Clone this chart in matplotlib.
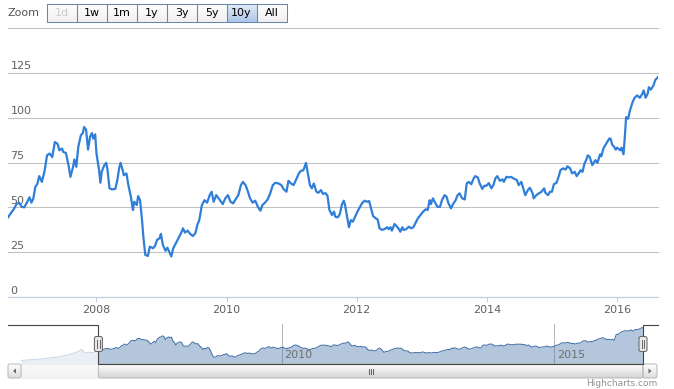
import matplotlib
matplotlib.use("Agg")
import matplotlib.pyplot as plt
import numpy as np
from matplotlib.patches import Rectangle, FancyBboxPatch, Polygon
from matplotlib.transforms import blended_transform_factory, offset_copy
from matplotlib.colors import LinearSegmentedColormap

# ---------------- data ----------------
dates = [
    2006.64, 2006.70, 2006.73, 2006.77, 2006.81, 2006.85, 2006.89, 2006.93, 2006.97, 2007.00,
    2007.03, 2007.06, 2007.09, 2007.12, 2007.16, 2007.20, 2007.24, 2007.28, 2007.32, 2007.36,
    2007.40, 2007.43, 2007.47, 2007.49, 2007.53, 2007.57, 2007.60, 2007.64, 2007.66, 2007.69,
    2007.72, 2007.76, 2007.79, 2007.81, 2007.84, 2007.87, 2007.90, 2007.93, 2007.95, 2007.98,
    2008.00, 2008.04, 2008.06, 2008.08, 2008.12, 2008.15, 2008.17, 2008.20, 2008.24, 2008.29,
    2008.32, 2008.35, 2008.37, 2008.40, 2008.42, 2008.46, 2008.49, 2008.53, 2008.56, 2008.58,
    2008.62, 2008.64, 2008.67, 2008.70, 2008.72, 2008.75, 2008.79, 2008.82, 2008.87, 2008.90,
    2008.93, 2008.97, 2008.99, 2009.02, 2009.06, 2009.09, 2009.12, 2009.15, 2009.18, 2009.22,
    2009.26, 2009.30, 2009.33, 2009.36, 2009.40, 2009.44, 2009.48, 2009.52, 2009.55, 2009.58,
    2009.62, 2009.66, 2009.70, 2009.74, 2009.77, 2009.80, 2009.84, 2009.89, 2009.94, 2009.98,
    2010.02, 2010.06, 2010.10, 2010.13, 2010.18, 2010.22, 2010.25, 2010.29, 2010.32, 2010.36,
    2010.40, 2010.44, 2010.48, 2010.52, 2010.55, 2010.59, 2010.63, 2010.67, 2010.71, 2010.75,
    2010.80, 2010.84, 2010.88, 2010.92, 2010.95, 2010.99, 2011.03, 2011.07, 2011.11, 2011.14,
    2011.18, 2011.22, 2011.24, 2011.28, 2011.31, 2011.34, 2011.38, 2011.41, 2011.45, 2011.48,
    2011.52, 2011.55, 2011.58, 2011.62, 2011.65, 2011.67, 2011.71, 2011.74, 2011.77, 2011.80,
    2011.82, 2011.85, 2011.88, 2011.91, 2011.94, 2011.98, 2012.01, 2012.05, 2012.08, 2012.12,
    2012.16, 2012.19, 2012.22, 2012.25, 2012.29, 2012.32, 2012.35, 2012.39, 2012.42, 2012.47,
    2012.49, 2012.52, 2012.54, 2012.58, 2012.61, 2012.64, 2012.67, 2012.70, 2012.72, 2012.76,
    2012.80, 2012.84, 2012.87, 2012.90, 2012.94, 2012.98, 2013.02, 2013.06, 2013.09, 2013.12,
    2013.14, 2013.17, 2013.21, 2013.24, 2013.28, 2013.31, 2013.35, 2013.38, 2013.41, 2013.45,
    2013.48, 2013.52, 2013.55, 2013.58, 2013.62, 2013.66, 2013.69, 2013.72, 2013.76, 2013.79,
    2013.82, 2013.86, 2013.89, 2013.93, 2013.96, 2013.99, 2014.03, 2014.07, 2014.10, 2014.13,
    2014.16, 2014.20, 2014.24, 2014.26, 2014.30, 2014.34, 2014.37, 2014.41, 2014.46, 2014.49,
    2014.53, 2014.56, 2014.59, 2014.63, 2014.66, 2014.70, 2014.72, 2014.76, 2014.80, 2014.84,
    2014.88, 2014.90, 2014.94, 2014.97, 2015.00, 2015.03, 2015.07, 2015.11, 2015.13, 2015.17,
    2015.21, 2015.24, 2015.28, 2015.31, 2015.35, 2015.38, 2015.41, 2015.44, 2015.47, 2015.50,
    2015.53, 2015.55, 2015.58, 2015.62, 2015.65, 2015.67, 2015.70, 2015.74, 2015.76, 2015.79,
    2015.82, 2015.85, 2015.88, 2015.90, 2015.93, 2015.95, 2015.98, 2016.00, 2016.05, 2016.07,
    2016.10, 2016.12, 2016.14, 2016.17, 2016.20, 2016.24, 2016.27, 2016.31, 2016.35, 2016.39,
    2016.41, 2016.44, 2016.47, 2016.49, 2016.52, 2016.56, 2016.59, 2016.63,
]
values = [
    44.4, 47.6, 49.0, 51.8, 52.6, 50.3, 50.0, 52.6, 55.6, 52.6,
    55.0, 61.4, 63.0, 67.4, 64.2, 69.8, 79.0, 80.0, 78.0, 86.4,
    85.5, 81.8, 82.8, 80.9, 80.3, 73.5, 67.0, 72.6, 76.7, 72.6,
    83.7, 90.2, 91.4, 94.8, 93.3, 82.2, 89.2, 91.4, 88.3, 90.7,
    80.0, 70.7, 63.7, 69.8, 73.5, 74.8, 70.7, 60.6, 60.0, 60.3,
    65.2, 72.2, 74.8, 71.1, 67.9, 68.9, 62.4, 55.6, 48.5, 53.1,
    51.3, 56.3, 54.0, 42.9, 33.7, 23.5, 22.9, 28.1, 27.2, 28.5,
    31.8, 32.8, 35.2, 29.0, 25.8, 27.5, 25.0, 22.6, 27.2, 30.0,
    32.8, 35.6, 38.3, 35.9, 37.0, 35.2, 34.0, 35.6, 40.2, 42.9,
    51.3, 54.0, 52.6, 56.8, 58.7, 53.1, 56.8, 54.4, 51.8, 55.0,
    56.8, 53.1, 52.2, 54.0, 56.8, 62.4, 64.2, 62.4, 59.6, 55.0,
    52.6, 53.7, 50.3, 48.1, 51.3, 52.6, 54.4, 57.8, 62.4, 63.7,
    63.3, 62.4, 60.0, 58.7, 64.8, 63.3, 62.4, 65.6, 68.9, 70.3,
    70.7, 74.8, 70.7, 62.4, 60.6, 63.3, 58.7, 58.1, 59.6, 57.5,
    57.9, 56.5, 48.5, 45.7, 47.6, 44.8, 44.4, 46.3, 51.3, 53.7,
    51.3, 45.2, 38.9, 42.9, 42.0, 45.2, 47.6, 50.3, 52.2, 53.7,
    53.1, 53.5, 49.4, 45.2, 43.9, 43.3, 38.3, 37.4, 37.8, 38.9,
    37.8, 38.9, 37.0, 40.7, 39.6, 38.3, 36.4, 38.9, 37.4, 37.8,
    39.2, 38.3, 38.9, 41.1, 43.9, 45.7, 47.6, 48.9, 48.5, 54.0,
    51.8, 55.0, 52.2, 50.3, 50.3, 54.0, 56.8, 55.9, 52.2, 49.4,
    51.8, 54.0, 56.8, 57.8, 55.0, 54.4, 63.3, 64.2, 62.9, 65.6,
    67.4, 66.7, 63.3, 60.3, 62.0, 62.0, 63.5, 60.6, 62.4, 66.1,
    67.4, 64.8, 65.6, 64.2, 67.0, 66.7, 67.0, 66.1, 65.2, 62.4,
    64.2, 60.6, 56.8, 59.6, 60.9, 58.1, 55.0, 56.8, 57.8, 58.7,
    60.6, 58.1, 56.8, 58.7, 58.7, 62.9, 63.7, 67.9, 70.7, 71.7,
    71.1, 72.9, 71.7, 68.9, 69.8, 67.4, 68.9, 70.7, 69.8, 74.4,
    76.7, 79.0, 78.1, 73.5, 75.3, 76.3, 74.8, 79.6, 78.5, 82.8,
    84.6, 86.4, 88.3, 88.3, 84.6, 84.1, 82.2, 83.3, 81.8, 83.3,
    79.6, 89.2, 100.3, 99.4, 104.1, 108.7, 111.1, 112.4, 111.1, 113.3,
    115.2, 111.1, 113.3, 117.0, 115.6, 118.0, 121.1, 122.6,
]
# earlier history, only visible in the navigator
pre_dates = [2005.22, 2005.30, 2005.45, 2005.60, 2005.75, 2005.90, 2006.06,
             2006.18, 2006.27, 2006.33, 2006.39, 2006.46, 2006.52, 2006.58]
pre_values = [12, 13, 15, 17, 21, 24, 30, 36, 42, 49, 37, 40, 38, 41]

range_start = 2006.64
x_ticks = [2008, 2010, 2012, 2014, 2016]
y_ticks = [0, 25, 50, 75, 100, 125, 150]
y_labels = ["0", "25", "50", "75", "100", "125"]
nav_ticks = [2010, 2015]
buttons = ["1d", "1w", "1m", "1y", "3y", "5y", "10y", "All"]
selected_button = "10y"
disabled_buttons = ["1d"]

# ---------------- figure ----------------
W, H = 674, 389
fig = plt.figure(figsize=(W / 100, H / 100), dpi=100)
fig.patch.set_facecolor("white")

def fb(left, top, width, height):
    return [left / W, 1 - (top + height) / H, width / W, height / H]

LABEL = "#606060"
GRID = "#C0C0C0"
AXIS = "#C0D0E0"

# main chart
ax = fig.add_axes(fb(8, 28, 650, 269))
ax.set_xlim(range_start, dates[-1])
ax.set_ylim(0, 150)
for s in ax.spines.values():
    s.set_visible(False)
for v in y_ticks[1:]:
    ax.axhline(v, color=GRID, lw=0.75, zorder=1, clip_on=False)
ax.axhline(0, color=AXIS, lw=0.9, zorder=2, clip_on=False)
ax.plot(dates, values, color="#2f7ed8", lw=1.6, solid_joinstyle="round", zorder=3)
ax.set_yticks([])
ax.set_xticks(x_ticks)
ax.set_xticklabels([str(t) for t in x_ticks])
ax.tick_params(axis="x", length=3.6, width=0.75, color=AXIS, labelcolor=LABEL,
               labelsize=8, pad=2)
ytrans = offset_copy(blended_transform_factory(ax.transAxes, ax.transData), fig,
                     x=2.5, y=3.5, units="dots")
for v, lab in zip(y_ticks, y_labels):
    ax.text(0, v, lab, transform=ytrans, ha="left", va="baseline",
            fontsize=8, color=LABEL, zorder=2)

# navigator
nav_dates = pre_dates + dates
nav_values = pre_values + values
NL, NT, NW, NH = 21, 324, 622, 40
nav = fig.add_axes(fb(NL, NT, NW, NH))
nav.set_xlim(nav_dates[0], nav_dates[-1])
nav.set_ylim(0, 135)
for s in nav.spines.values():
    s.set_visible(False)
nav.set_xticks([])
nav.set_yticks([])
nav.fill_between(nav_dates, 0, nav_values, color="#4572A7", alpha=0.4, lw=0, zorder=2)
nav.plot(nav_dates, nav_values, color="#4572A7", lw=0.75, zorder=3)
ntrans = offset_copy(blended_transform_factory(nav.transData, nav.transAxes), fig,
                     x=3, y=4, units="dots")
for t in nav_ticks:
    nav.axvline(t, color="#B8B8B8", lw=0.75, zorder=1)
    nav.text(t, 0, str(t), transform=ntrans, ha="left", va="bottom",
             fontsize=8, color="#707070", zorder=4)
nav.axvspan(nav_dates[0], range_start, color="white", alpha=0.72, lw=0, zorder=5)

# overlay (buttons, scrollbar, handles)
ov = fig.add_axes([0, 0, 1, 1])
ov.patch.set_visible(False)
ov.axis("off")

def grad_box(x0, y0, w, h, top, bottom, ec, r=0.0, lw=0.75, z=5):
    style = "round,pad=0,rounding_size=%g" % r if r > 0 else "square,pad=0"
    patch = FancyBboxPatch((x0, y0), w, h, boxstyle=style, fc="none", ec=ec,
                           lw=lw, zorder=z + 1)
    ov.add_patch(patch)
    cmap = LinearSegmentedColormap.from_list("g", [top, bottom])
    grad = np.linspace(0, 1, 32).reshape(-1, 1)
    im = ov.imshow(grad, cmap=cmap, extent=(x0, x0 + w, y0 + h, y0),
                   aspect="auto", zorder=z, interpolation="bilinear")
    im.set_clip_path(patch)
    return patch

# range selector
ov.text(8, 13, "Zoom", ha="left", va="center", fontsize=8, color="#555555")
for i, b in enumerate(buttons):
    x0 = 46.5 + 30 * i
    if b == selected_button:
        grad_box(x0, 3.5, 30, 18.5, "#E6EEFA", "#AFC6E8", "#68A")
    else:
        grad_box(x0, 3.5, 30, 18.5, "#FFFFFF", "#F0F0F0", "#68A")
    col = "#CCCCCC" if b in disabled_buttons else "#000000"
    ov.text(x0 + 15, 13, b, ha="center", va="center", fontsize=8, color=col, zorder=8)

# handle positions from navigator scale
span = nav_dates[-1] - nav_dates[0]
hxl = NL + (range_start - nav_dates[0]) / span * NW
hxr = NL + NW

# scrollbar
SB_T, SB_H = 364, 14
grad_box(21, SB_T, hxl - 21, SB_H, "#FAFAFA", "#F2F2F2", "#EEEEEE", z=4)
grad_box(8, SB_T, 13, SB_H, "#FFFFFF", "#DDDDDD", "#BBBBBB", r=2, z=5)
grad_box(hxr, SB_T, 14, SB_H, "#FFFFFF", "#DDDDDD", "#BBBBBB", r=2, z=5)
grad_box(hxl, SB_T, hxr - hxl, SB_H, "#FFFFFF", "#D4D4D4", "#BBBBBB", r=2, z=5)
ov.add_patch(Polygon([(13, 371), (16, 368.5), (16, 373.5)], closed=True,
                     fc="#666666", ec="none", zorder=8))
ov.add_patch(Polygon([(hxr + 8.5, 371), (hxr + 5.5, 368.5), (hxr + 5.5, 373.5)],
                     closed=True, fc="#666666", ec="none", zorder=8))
cx = (hxl + hxr) / 2
for dx in (-2, 0, 2):
    ov.plot([cx + dx, cx + dx], [368.5, 374], color="#666666", lw=0.75, zorder=8)

# navigator outline
ov.plot([8, hxl, hxl, hxr, hxr, 658], [324.5, 324.5, 364, 364, 324.5, 324.5],
        color="#444444", lw=0.8, zorder=9, solid_joinstyle="miter")

# handles
for hx in (hxl, hxr):
    ov.add_patch(FancyBboxPatch((hx - 4, 336.5), 8, 15,
                                boxstyle="round,pad=0,rounding_size=2",
                                fc="#EBE7E8", ec="#666666", lw=0.75, zorder=10))
    for dx in (-1.2, 1.2):
        ov.plot([hx + dx, hx + dx], [340, 348], color="#666666", lw=0.7, zorder=11)

# credits
ov.text(657, 383, "Highcharts.com", ha="right", va="center", fontsize=6.5,
        color="#909090")

ov.set_xlim(0, W)
ov.set_ylim(H, 0)

fig.savefig("out.png", dpi=100, facecolor="white")
